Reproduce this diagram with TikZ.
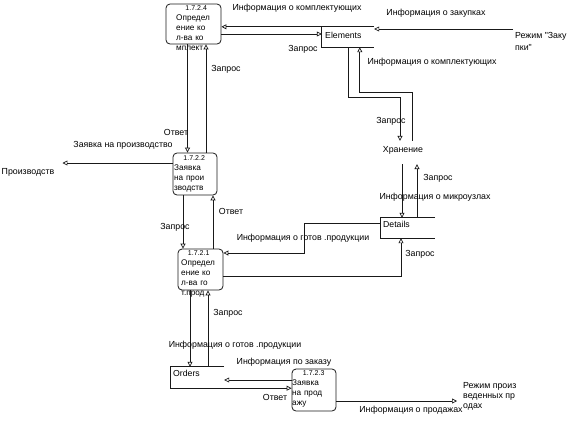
\documentclass[tikz,border=0pt]{standalone}
\usepackage{fontspec}
\setmainfont{Liberation Sans}[Ligatures=TeXOff]
\usetikzlibrary{arrows.meta}
\begin{document}
\begin{tikzpicture}[x=1pt,y=-1pt,
  proc/.style={draw=black!90, line width=0.8pt, rounded corners=4pt, inner sep=0},
  ptxt/.style={font=\fontsize{8.2}{10}\selectfont, align=left, inner sep=0, anchor=north west},
  store/.style={inner sep=0},
  storeline/.style={draw=black!90, line width=0.8pt},
  stxt/.style={font=\fontsize{8.7}{11}\selectfont, inner sep=0, anchor=west},
  lbl/.style={font=\fontsize{8.8}{11}\selectfont, inner sep=0},
  ent/.style={font=\fontsize{8.8}{11}\selectfont, inner xsep=0, inner ysep=5pt},
  flow/.style={draw=black!90, line width=0.7pt, -{Triangle[open,length=5pt,width=5pt]}}]
\useasboundingbox (0,0) rectangle (573,421);

% processes
\node[proc, minimum width=55pt, minimum height=40pt] (P4) at (193.5,24) {};
\node[proc, minimum width=44pt, minimum height=42pt] (P2) at (195,174) {};
\node[proc, minimum width=45pt, minimum height=41pt] (P1) at (200.5,269.5) {};
\node[proc, minimum width=44pt, minimum height=42pt] (P3) at (314,390) {};
\node[ptxt, text width=40pt] (P4t) at (176,5.5) {\makebox[40pt]{\fontsize{7}{10}\selectfont 1.7.2.4}\\Определ\\ение ко\\л-ва ко\\мплект};
\node[ptxt, text width=40pt] (P2t) at (174,155.5) {\makebox[40pt]{\fontsize{7}{10}\selectfont 1.7.2.2}\\Заявка\\на прои\\зводств};
\node[ptxt, text width=35pt] (P1t) at (181,250.5) {\makebox[35pt]{\fontsize{7}{10}\selectfont 1.7.2.1}\\Определ\\ение ко\\л-ва го\\т.прод};
\node[ptxt, text width=43pt] (P3t) at (292,370.5) {\makebox[43pt]{\fontsize{7}{10}\selectfont 1.7.2.3}\\Заявка\\на прод\\ажу};

% stores
\node[store, minimum width=52pt, minimum height=20pt] (E) at (348,37) {};
\node[store, minimum width=54pt, minimum height=20pt] (D) at (408,228) {};
\node[store, minimum width=53pt, minimum height=21pt] (O) at (197.5,377.5) {};
\draw[storeline] (E.north east) -- (E.north west) -- (E.south west) -- (E.south east);
\draw[storeline] (D.north east) -- (D.north west) -- (D.south west) -- (D.south east);
\draw[storeline] (O.north east) -- (O.north west) -- (O.south west) -- (O.south east);
\node[stxt] (Et) at (325,35) {Elements};
\node[stxt] (Dt) at (383,224) {Details};
\node[stxt] (Ot) at (173,373) {Orders};

% external entities
\node[ent] (H) at (403,150) {Хранение};
\node[lbl, align=left, anchor=north west, font=\fontsize{8.8}{12}\selectfont] (Zak) at (515,32) {Режим "Заку\\пки"};
\node[lbl] (Prd) at (28,172) {Производств};
\node[lbl, align=left, anchor=north west, font=\fontsize{8.8}{10}\selectfont] (Rez) at (463,382) {Режим произ\\веденных пр\\одах};
\coordinate (zakIn) at (513,29);
\coordinate (rezIn) at (457,401);

% flows
\draw[flow] (E.north east) -- (E.north east -| P4.east);
\draw[flow] (zakIn) -- (zakIn -| E.east);
\draw[flow] ([yshift=-10pt]P4.east) -- ([yshift=-10pt]P4.east -| E.west);
\draw[flow] ([xshift=27pt]E.south west) -- ++(0,50) -| ([xshift=-3pt]H.north);
\draw[flow] ([xshift=9pt]H.north) -- ([xshift=9pt]H.north |- 0,92) -| ([xshift=38pt]E.south west);
\draw[flow, shorten <=5pt] ([xshift=-1pt]H.south) -- ([xshift=-1pt]H.south |- D.north);
\draw[flow, shorten >=5pt] ([xshift=14pt]H.south |- D.north) -- ([xshift=14pt]H.south);
\draw[flow] ([yshift=-6.5pt]P1.east) -| ([xshift=-7pt]D.south);
\draw[flow] ([yshift=5pt]D.west) -| ([xshift=81pt,yshift=16.5pt]P1.east) -- ([yshift=16.5pt]P1.east);
\draw[flow] ([xshift=-6pt]P4.south) -- ([xshift=-6pt]P4.south |- P2.north);
\draw[flow] ([xshift=11pt]P2.north) -- ([xshift=11pt]P2.north |- P4.south);
\draw[flow, shorten >=8pt] ([yshift=11pt]P2.west) -- ([yshift=11pt]P2.west -| Prd.east);
\draw[flow] ([xshift=-12pt]P2.south) -- ([xshift=-12pt]P2.south |- P1.north);
\draw[flow] ([xshift=12.5pt]P1.north) -- ([xshift=12.5pt]P1.north |- P2.south);
\draw[flow] ([xshift=-10.5pt]P1.south) -- ([xshift=-10.5pt]P1.south |- O.north);
\draw[flow] ([xshift=10.5pt]O.north) -- ([xshift=10.5pt]O.north |- P1.south);
\draw[flow] ([yshift=10pt]P3.west) -- ([yshift=10pt]P3.west -| O.east);
\draw[flow] (O.south east) -- (O.south east -| P3.west);
\draw[flow] ([yshift=-11pt]P3.east) -- ([yshift=-11pt]P3.east -| rezIn);

% labels
\node[lbl] (L1) at (297,8) {Информация о комплектующих};
\node[lbl] (L2) at (436,13) {Информация о закупках};
\node[lbl] (L4) at (303,49) {Запрос};
\node[lbl] (L5) at (432,62) {Информация о комплектующих};
\node[lbl] (L6) at (391,121) {Запрос};
\node[lbl] (L8) at (438,178) {Запрос};
\node[lbl] (L9) at (435,197) {Информация о микроузлах};
\node[lbl] (L10) at (420,254) {Запрос};
\node[lbl] (L11) at (303,238) {Информация о готов .продукции};
\node[lbl] (L12) at (226,69) {Запрос};
\node[lbl] (L13) at (176,132) {Ответ};
\node[lbl] (L14) at (123,145) {Заявка на производство};
\node[lbl] (L16) at (175,227) {Запрос};
\node[lbl] (L17) at (231,211) {Ответ};
\node[lbl] (L18) at (235,345) {Информация о готов .продукции};
\node[lbl] (L19) at (228,313) {Запрос};
\node[lbl] (L20) at (284,362) {Информация по заказу};
\node[lbl] (L21) at (275,397) {Ответ};
\node[lbl] (L22) at (411,410) {Информация о продажах};
\end{tikzpicture}
\end{document}
